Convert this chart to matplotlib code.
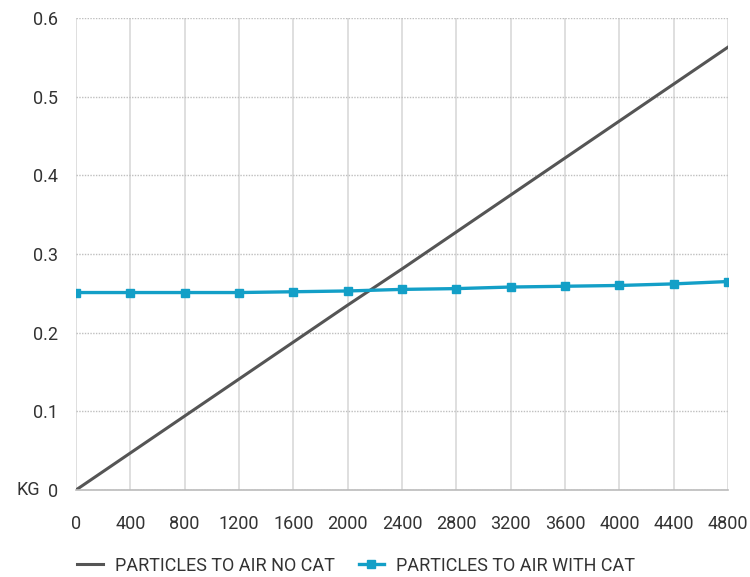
import matplotlib
matplotlib.use("Agg")
import matplotlib.pyplot as plt

plt.rcParams['font.family'] = ['Roboto', 'DejaVu Sans']

distance = [0, 400, 800, 1200, 1600, 2000, 2400, 2800, 3200, 3600, 4000, 4400, 4800]
no_cat = [0, 0.047, 0.094, 0.141, 0.188, 0.235, 0.281, 0.328, 0.375, 0.422, 0.469, 0.516, 0.563]
with_cat = [0.251, 0.251, 0.251, 0.251, 0.252, 0.253, 0.255, 0.256, 0.258, 0.259, 0.260, 0.262, 0.265]
y_ticks = [0, 0.1, 0.2, 0.3, 0.4, 0.5, 0.6]

fig = plt.figure(figsize=(7.5, 5.77), dpi=100)
ax = fig.add_axes([0.1013, 0.1508, 0.8694, 0.818])

ax.plot(distance, no_cat, color='#555555', lw=2.2, label='PARTICLES TO AIR NO CAT')
ax.plot(distance, with_cat, color='#139fc7', lw=2.4, marker='s', markersize=6,
        label='PARTICLES TO AIR WITH CAT')

ax.set_xlim(0, 4800)
ax.set_ylim(0, 0.6)
ax.set_xticks(distance)
ax.set_yticks(y_ticks)
ax.set_yticklabels(['0', '0.1', '0.2', '0.3', '0.4', '0.5', '0.6'])

ax.grid(axis='x', color='#d9d9d9', lw=1.2, ls='-')
ax.grid(axis='y', color='#bfbfbf', lw=1, ls=(0, (1, 1)))
ax.set_axisbelow(True)

for s in ['top', 'right', 'left']:
    ax.spines[s].set_visible(False)
ax.spines['bottom'].set_color('#bbbbbb')
ax.spines['bottom'].set_linewidth(1.2)

ax.tick_params(axis='both', length=0, labelsize=13, labelcolor='#333333')
ax.tick_params(axis='x', pad=18)
ax.tick_params(axis='y', pad=13)

fig.text(17 / 750, 1 - 490 / 577, 'KG', fontsize=13, color='#333333', va='center', ha='left')

ax.legend(loc='center', bbox_to_anchor=(0.43, -0.16), ncol=2, frameon=False,
          fontsize=13, handlelength=1.4, handletextpad=0.7, columnspacing=1.3,
          labelcolor='#333333')

plt.savefig("out.png")
